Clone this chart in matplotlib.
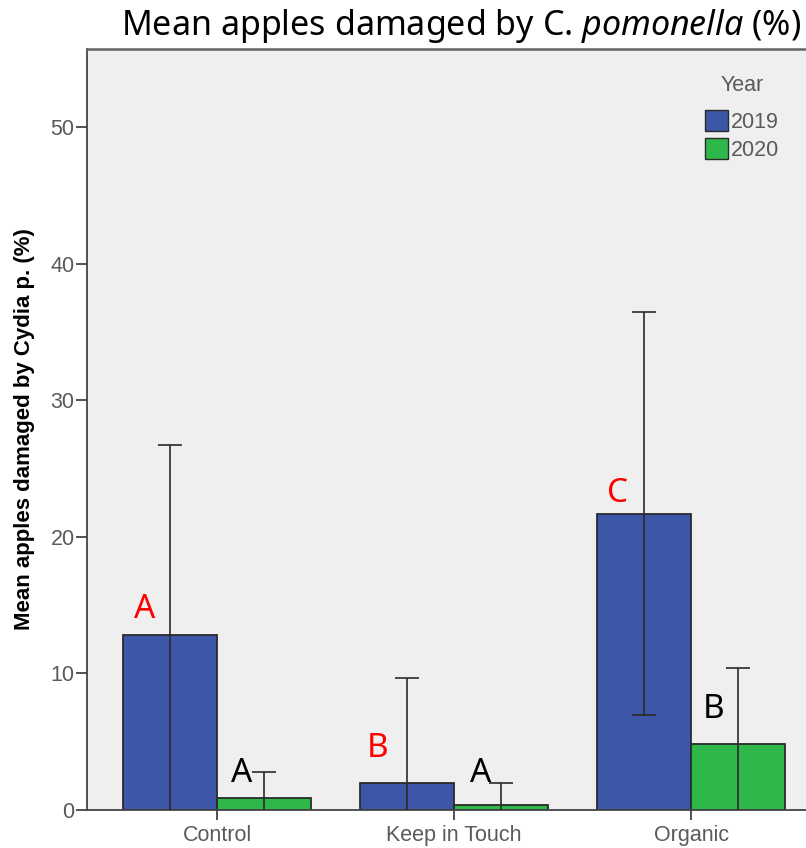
import matplotlib
matplotlib.use("Agg")
import matplotlib.pyplot as plt
from matplotlib.patches import Patch
import numpy as np

plt.rcParams['mathtext.fontset'] = 'custom'
plt.rcParams['mathtext.rm'] = 'Noto Sans'
plt.rcParams['mathtext.it'] = 'Noto Sans:italic'

# data
groups = ["Control", "Keep in Touch", "Organic"]
years = ["2019", "2020"]
mean_2019 = [12.8, 2.0, 21.7]
err_2019 = [13.9, 7.65, 14.75]
mean_2020 = [0.85, 0.37, 4.83]
err_2020 = [1.9, 1.62, 5.57]

# significance letters: (text, x, y, colour)
letters = [("A", -0.304, 14.05, "red"), ("A", 0.105, 2.05, "black"),
           ("B", 0.679, 3.9, "red"), ("A", 1.110, 2.05, "black"),
           ("C", 1.688, 22.55, "red"), ("B", 2.097, 6.73, "black")]

blue = "#3d57a8"
green = "#2eb84a"
edge = "#2a2a2a"
grey = "#5a5a5a"

W, H = 806, 848
fig = plt.figure(figsize=(W / 100, H / 100), dpi=100)
ax = fig.add_axes([87 / W, 38 / H, (W - 87) / W, (810 - 49) / H])
ax.set_facecolor("#efefef")

x = np.arange(len(groups))
w = 0.397
ax.bar(x - w / 2, mean_2019, w, color=blue, edgecolor=edge, linewidth=1.3, zorder=2)
ax.bar(x + w / 2, mean_2020, w, color=green, edgecolor=edge, linewidth=1.3, zorder=2)
ax.errorbar(x - w / 2, mean_2019, yerr=err_2019, fmt='none', ecolor=edge,
            elinewidth=1.2, capsize=8.5, capthick=1.2, zorder=3)
ax.errorbar(x + w / 2, mean_2020, yerr=err_2020, fmt='none', ecolor=edge,
            elinewidth=1.2, capsize=8.5, capthick=1.2, zorder=3)

for t, lx, ly, c in letters:
    ax.text(lx, ly, t, color=c, fontsize=24, family="Noto Sans",
            ha="center", va="baseline", zorder=4)

ax.set_xlim(-0.549, 2.485)
ax.set_ylim(0, 55.7)
ax.set_xticks(x)
ax.set_xticklabels(groups)
ax.set_yticks([0, 10, 20, 30, 40, 50])
ax.tick_params(axis='both', colors="#444444", labelcolor=grey, labelsize=15.5,
               width=1.3)
ax.tick_params(axis='x', pad=4, length=7)
ax.tick_params(axis='y', pad=1, length=8)
for lab in ax.get_xticklabels() + ax.get_yticklabels():
    lab.set_family("Liberation Sans")

ax.spines['right'].set_visible(False)
for s in ['left', 'bottom', 'top']:
    ax.spines[s].set_color("#444444")
    ax.spines[s].set_linewidth(1.3)
ax.spines['top'].set_color("#666666")
ax.spines['top'].set_linewidth(1.8)

fig.text(25 / W, 1 - 429 / H, "Mean apples damaged by Cydia p. (%)", rotation=90,
         ha="center", va="center", fontsize=16, fontweight="bold",
         family="Liberation Sans")

fig.text(461 / W, 1 - 35 / H, r"Mean apples damaged by C. $\mathit{pomonella}$ (%)",
         ha="center", va="baseline", fontsize=24.5, family="Noto Sans")

handles = [Patch(facecolor=blue, edgecolor=edge), Patch(facecolor=green, edgecolor=edge)]
leg = ax.legend(handles, years, title="Year", frameon=False, fontsize=15.5,
                title_fontsize=15.5, loc="upper left",
                bbox_to_anchor=(705 / W, 1 - 75 / H), bbox_transform=fig.transFigure,
                handlelength=1.05, handleheight=1.1, handletextpad=0.15,
                labelspacing=0.25, borderpad=0, borderaxespad=0)
leg._legend_box.sep = 10
for t in leg.get_texts() + [leg.get_title()]:
    t.set_color(grey)
    t.set_family("Liberation Sans")

fig.savefig("out.png", dpi=100)
